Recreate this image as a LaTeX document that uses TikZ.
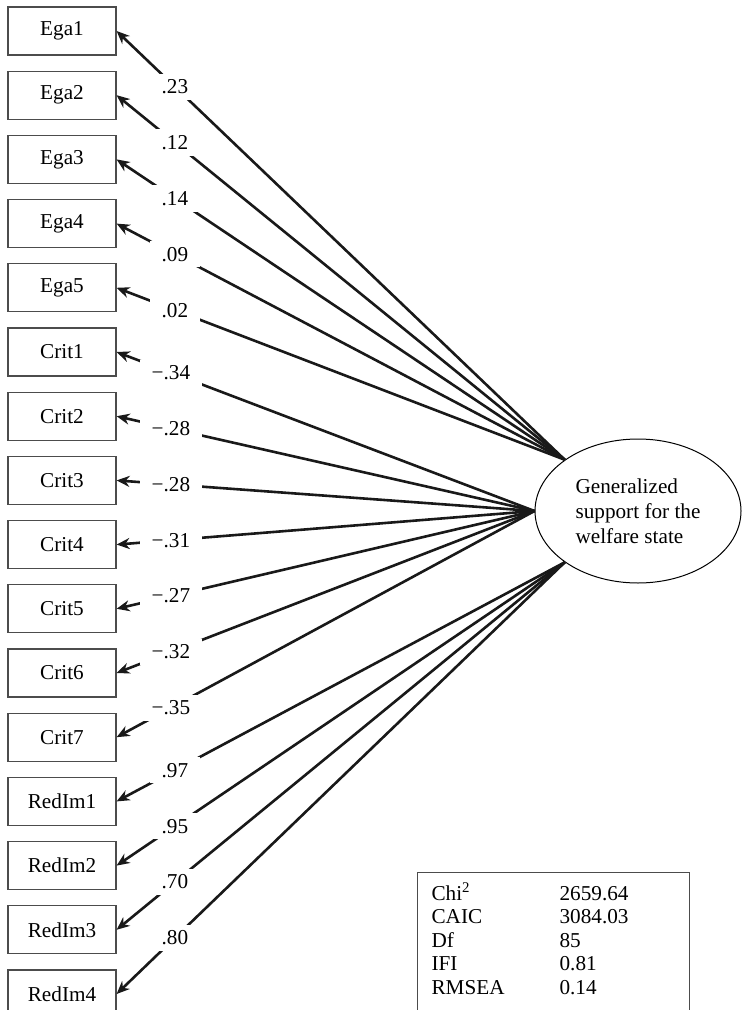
\documentclass[tikz,border=0pt]{standalone}
\usepackage{fontspec}
\setmainfont{Liberation Serif}
\usetikzlibrary{arrows.meta,shapes.geometric}
\tikzset{
  varbox/.style={draw=black!70, line width=0.6pt, minimum width=54pt, minimum height=24pt, inner sep=0pt},
  latent/.style={ellipse, draw=black, line width=0.5pt, minimum width=103pt, minimum height=72pt, inner sep=0pt, align=left},
  load/.style={-{Stealth[length=6.5pt,width=5.5pt]}, line width=1.3pt, draw=black!90},
  coef/.style={fill=white, inner xsep=6pt, inner ysep=3pt, pos=0.87},
  statbox/.style={draw=black!70, line width=0.6pt, anchor=north west, align=left, inner xsep=7pt, inner ysep=5pt, font=\fontsize{10.6}{11.75}\selectfont}
}
\begin{document}
\begin{tikzpicture}[x=0.5pt, y=-0.5pt, font=\fontsize{10.6}{12.5}\selectfont]
  \useasboundingbox (0,0) rectangle (741,1010);
  \node[latent] (support) at (638,511) {Generalized\\support for the\\welfare state};
  \node[varbox] (ega1) at (62,31) {Ega1};
  \node[varbox] (ega2) at (62,95.2) {Ega2};
  \node[varbox] (ega3) at (62,159.4) {Ega3};
  \node[varbox] (ega4) at (62,223.6) {Ega4};
  \node[varbox] (ega5) at (62,287.8) {Ega5};
  \node[varbox] (crit1) at (62,352) {Crit1};
  \node[varbox] (crit2) at (62,416.2) {Crit2};
  \node[varbox] (crit3) at (62,480.4) {Crit3};
  \node[varbox] (crit4) at (62,544.6) {Crit4};
  \node[varbox] (crit5) at (62,608.8) {Crit5};
  \node[varbox] (crit6) at (62,673) {Crit6};
  \node[varbox] (crit7) at (62,737.2) {Crit7};
  \node[varbox] (redim1) at (62,801.4) {RedIm1};
  \node[varbox] (redim2) at (62,865.6) {RedIm2};
  \node[varbox] (redim3) at (62,929.8) {RedIm3};
  \node[varbox] (redim4) at (62,994) {RedIm4};
  % loadings
  \draw[load] (support.145) -- node[coef]{.23} (ega1.east);
  \draw[load] (support.145) -- node[coef]{.12} (ega2.east);
  \draw[load] (support.145) -- node[coef]{.14} (ega3.east);
  \draw[load] (support.145) -- node[coef]{.09} (ega4.east);
  \draw[load] (support.145) -- node[coef]{.02} (ega5.east);
  \draw[load] (support.west) -- node[coef]{−.34} (crit1.east);
  \draw[load] (support.west) -- node[coef]{−.28} (crit2.east);
  \draw[load] (support.west) -- node[coef]{−.28} (crit3.east);
  \draw[load] (support.west) -- node[coef]{−.31} (crit4.east);
  \draw[load] (support.west) -- node[coef]{−.27} (crit5.east);
  \draw[load] (support.west) -- node[coef]{−.32} (crit6.east);
  \draw[load] (support.west) -- node[coef]{−.35} (crit7.east);
  \draw[load] (support.215) -- node[coef]{.97} (redim1.east);
  \draw[load] (support.215) -- node[coef]{.95} (redim2.east);
  \draw[load] (support.215) -- node[coef]{.70} (redim3.east);
  \draw[load] (support.215) -- node[coef]{.80} (redim4.east);
  % fit indices
  \node[statbox] (fit) at (417,872) {\begin{tabular}{@{}p{64pt}@{}p{58pt}@{}}
    Chi\textsuperscript{2} & 2659.64\\
    CAIC & 3084.03\\
    Df & 85\\
    IFI & 0.81\\
    RMSEA & 0.14\\
    & \\
  \end{tabular}};
\end{tikzpicture}
\end{document}
